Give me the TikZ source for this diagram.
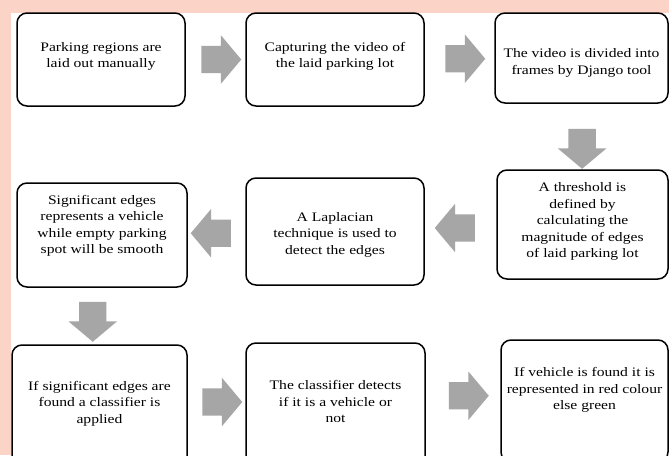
\documentclass[tikz,border=0pt]{standalone}
\usepackage{fontspec}
\setmainfont{Liberation Serif}[FakeStretch=1.2]
\usetikzlibrary{shapes.arrows, positioning, calc}

\definecolor{pinkbg}{RGB}{252,211,199}
\definecolor{arrowgray}{RGB}{166,166,166}

\begin{document}
\begin{tikzpicture}[
    x=1pt, y=-1pt,
    stepbox/.style={draw, line width=1.5pt, rounded corners=10pt, fill=white, inner sep=0pt},
    steptext/.style={align=center, inner sep=0pt, font=\fontsize{13}{16.5}\selectfont},
    flowarrow/.style={single arrow, fill=arrowgray, draw=none, inner sep=13.5pt, minimum width=48pt, minimum height=40pt, single arrow head extend=10.5pt, single arrow tip angle=100}
]
    \useasboundingbox (0,0) rectangle (669,455);
    \clip (0,0) rectangle (669,455);
    % page background
    \fill[pinkbg] (0,0) rectangle (669,455);
    \fill[white] (11,13) rectangle (669,455);

    % first row
    \node[stepbox, minimum width=168pt, minimum height=93pt] (regions) at (101,59.5) {};
    \node[stepbox, minimum width=178pt, minimum height=93pt] (capture) at (335,59.5) {};
    \node[stepbox, minimum width=173pt, minimum height=90pt] (frames) at (581.5,58) {};
    \node[steptext] (regions-txt) at ([yshift=3pt]regions.center) {Parking regions are\\laid out manually};
    \node[steptext] (capture-txt) at ([yshift=3pt]capture.center) {Capturing the video of\\the laid parking lot};
    \node[steptext] (frames-txt) at ([yshift=-5pt]frames.center) {The video is divided into\\frames by Django tool};

    % second row
    \node[stepbox, minimum width=171pt, minimum height=109pt] (threshold) at (582.5,224.5) {};
    \node[stepbox, minimum width=178pt, minimum height=107pt] (laplacian) at (335,231.5) {};
    \node[stepbox, minimum width=170pt, minimum height=104pt] (edges) at (102,235) {};
    \node[steptext] (threshold-txt) at ([yshift=3pt]threshold.center) {A threshold is\\defined by\\calculating the\\magnitude of edges\\of laid parking lot};
    \node[steptext] (laplacian-txt) at ([yshift=-3pt]laplacian.center) {A Laplacian\\technique is used to\\detect the edges};
    \node[steptext] (edges-txt) at ([yshift=9pt]edges.center) {Significant edges\\represents a vehicle\\while empty parking\\spot will be smooth};

    % third row
    \node[stepbox, minimum width=175pt, minimum height=125pt] (classify) at (99.5,407.5) {};
    \node[stepbox, minimum width=179pt, minimum height=127pt] (detect) at (335.5,406.5) {};
    \node[stepbox, minimum width=167pt, minimum height=122pt] (result) at (584.5,401) {};
    \node[steptext] (classify-txt) at ([yshift=4pt]classify.center) {If significant edges are\\found a classifier is\\applied};
    \node[steptext] (detect-txt) at ([yshift=5pt]detect.center) {The classifier detects\\if it is a vehicle or\\not};
    \node[steptext] (result-txt) at ([yshift=11pt]result.center) {If vehicle is found it is\\represented in red colour\\else green};

    % arrows
    \node[flowarrow] (a1) at ($(regions.east)!0.5!(capture.west)$) {};
    \node[flowarrow] (a2) at ($(capture.east)!0.5!(frames.west)$) {};
    \node[flowarrow, shape border rotate=270] (a3) at ($(frames.south)!0.6!(threshold.north)$) {};
    \node[flowarrow, shape border rotate=180] (a4) at ($(threshold.west)!0.5!(laplacian.east)$) {};
    \node[flowarrow, shape border rotate=180] (a5) at ($(laplacian.west)!0.5!(edges.east)$) {};
    \node[flowarrow, shape border rotate=270, xshift=-8pt] (a6) at ($(edges.south)!0.5!(classify.north)$) {};
    \node[flowarrow, yshift=5pt] (a7) at ($(classify.east)!0.5!(detect.west)$) {};
    \node[flowarrow, yshift=8pt] (a8) at ($(detect.east)!0.5!(result.west)$) {};
\end{tikzpicture}
\end{document}
